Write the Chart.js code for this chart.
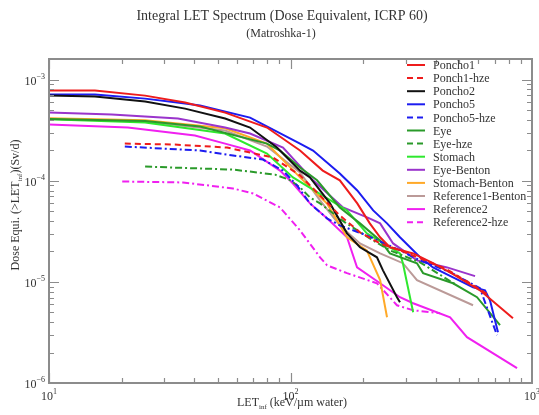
<!DOCTYPE html>
<html>
<head>
<meta charset="utf-8">
<script src="https://cdn.jsdelivr.net/npm/chart.js@4/dist/chart.umd.min.js"></script>
<style>
  html, body { margin: 0; padding: 0; background: #fff; }
</style>
</head>
<body>
<canvas id="chartLET" width="539" height="415"></canvas>
<script>
// LET (keV/um water) and dose equivalent (Sv/d)
const poncho1Let  = [10, 15.5, 25, 36.6, 53.6, 79.9, 109.5, 136, 160, 189, 213, 235, 258, 322, 389, 471, 609, 834];
const poncho1Dose = [7.8e-4, 7.8e-4, 6.95e-4, 5.93e-4, 4.72e-4, 3.36e-4, 1.99e-4, 1.26e-4, 1.01e-4, 5.97e-5, 3.79e-5, 2.76e-5, 2.2e-5, 1.91e-5, 1.53e-5, 1.19e-5, 8.26e-6, 4.37e-6];

const ponch1HzeLet  = [20.6, 33.2, 54.6, 84.6, 109.5, 132.5, 160, 194, 235, 284, 344, 436, 554, 650];
const ponch1HzeDose = [2.33e-4, 2.28e-4, 2.13e-4, 1.7e-4, 1.13e-4, 7.16e-5, 4.54e-5, 3.09e-5, 2.4e-5, 2.05e-5, 1.71e-5, 1.36e-5, 9.7e-6, 7.6e-6];

const poncho2Let  = [10, 15.5, 25, 36.6, 53.6, 68, 87.9, 109.5, 120.4, 145.8, 171.4, 194, 228, 241.5, 276, 284];
const poncho2Dose = [6.95e-4, 6.8e-4, 6.07e-4, 5.17e-4, 4.12e-4, 3.36e-4, 2.13e-4, 1.26e-4, 1.08e-4, 5.97e-5, 3.02e-5, 2.2e-5, 1.75e-5, 1.3e-5, 7.05e-6, 6.29e-6];

const poncho5Let  = [10, 15.5, 25, 36.6, 42.2, 68, 109.5, 124, 160, 189, 220, 251, 284, 344, 389, 471, 570, 639, 670, 723];
const poncho5Dose = [7.11e-4, 7.11e-4, 6.49e-4, 5.8e-4, 5.54e-4, 4.21e-4, 2.33e-4, 1.99e-4, 1.18e-4, 8.02e-5, 5.09e-5, 3.79e-5, 2.76e-5, 1.75e-5, 1.39e-5, 1.11e-5, 8.85e-6, 8.26e-6, 6.58e-6, 3.18e-6];

const poncho5HzeLet  = [20.6, 42.2, 57.8, 76.9, 93.1, 106.4, 120.4, 141.6, 160, 207, 284, 344, 458, 609, 716];
const poncho5HzeDose = [2.18e-4, 1.99e-4, 1.78e-4, 1.62e-4, 1.26e-4, 8.99e-5, 5.97e-5, 4.25e-5, 3.62e-5, 2.88e-5, 2.05e-5, 1.63e-5, 1.25e-5, 8.65e-6, 2.97e-6];

const eyeLet  = [10, 25, 42.2, 79.9, 90.5, 109.5, 128.8, 160, 194, 235, 258, 334, 354, 471, 592, 737];
const eyeDose = [4.08e-4, 3.9e-4, 3.44e-4, 2.33e-4, 1.99e-4, 1.35e-4, 1.01e-4, 5.45e-5, 3.79e-5, 2.57e-5, 1.91e-5, 1.53e-5, 1.22e-5, 9.69e-6, 7.05e-6, 3.73e-6];

const eyeHzeLet  = [25, 57.8, 86.3, 100, 109.5, 120.4, 132.5, 168, 213, 258, 344, 480];
const eyeHzeDose = [1.38e-4, 1.29e-4, 1.15e-4, 1.01e-4, 8.59e-5, 6.84e-5, 5.97e-5, 3.88e-5, 2.69e-5, 2.05e-5, 1.56e-5, 9.5e-6];

const stomachLet  = [10, 25, 53.6, 79.9, 102.4, 171.4, 207, 284, 292, 322];
const stomachDose = [4.05e-4, 3.76e-4, 2.93e-4, 1.86e-4, 1.08e-4, 5.09e-5, 3.02e-5, 1.91e-5, 1.53e-5, 5.01e-6];

const eyeBentonLet  = [10, 18.2, 34.2, 53.6, 68, 93.1, 124, 165, 210, 235, 266, 334, 445, 581];
const eyeBentonDose = [4.72e-4, 4.51e-4, 4.12e-4, 3.36e-4, 2.93e-4, 2.13e-4, 1.01e-4, 5.45e-5, 4.3e-5, 3.79e-5, 2.4e-5, 1.63e-5, 1.39e-5, 1.14e-5];

const stomachBentonLet  = [10, 25, 53.6, 79.9, 109.5, 141.6, 171.4, 207, 235, 251];
const stomachBentonDose = [4.14e-4, 3.96e-4, 3.3e-4, 2.33e-4, 1.08e-4, 5.97e-5, 2.76e-5, 2.05e-5, 1.04e-5, 4.47e-6];

const ref1BentonLet  = [10, 25, 53.6, 79.9, 109.5, 132.5, 160, 194, 235, 292, 334, 570];
const ref1BentonDose = [4.1e-4, 3.85e-4, 3.14e-4, 2.18e-4, 1.21e-4, 6.39e-5, 3.62e-5, 2.4e-5, 1.91e-5, 1.53e-5, 1.04e-5, 5.87e-6];

const ref2Let  = [10, 21.2, 40.2, 53.6, 68, 90.5, 102.4, 120.4, 141.6, 171.4, 188.6, 235, 284, 322, 458, 538, 867];
const ref2Dose = [3.6e-4, 3.36e-4, 2.8e-4, 2.33e-4, 1.99e-4, 1.26e-4, 9.4e-5, 5.97e-5, 4.25e-5, 2.76e-5, 1.39e-5, 9.69e-6, 7.05e-6, 6.15e-6, 4.47e-6, 2.84e-6, 1.4e-6];

const ref2HzeLet  = [20.1, 35.9, 57.8, 69.9, 90.5, 109.5, 132.5, 141.6, 171.4, 228, 276, 322, 416];
const ref2HzeDose = [9.84e-5, 9.62e-5, 8.39e-5, 7.49e-5, 5.45e-5, 3.23e-5, 1.75e-5, 1.46e-5, 1.22e-5, 9.69e-6, 5.87e-6, 5.24e-6, 4.9e-6];

const xTickExps = [1, 2, 3];
const yTickExps = [-3, -4, -5, -6];

const DASH = [6, 4];
const DASHDOT = [7, 3, 2, 3];

const series = [
  {label: 'Poncho1',           let: poncho1Let,       dose: poncho1Dose,       color: '#ee1c1c', dash: []},
  {label: 'Ponch1-hze',        let: ponch1HzeLet,     dose: ponch1HzeDose,     color: '#ee1c1c', dash: DASH},
  {label: 'Poncho2',           let: poncho2Let,       dose: poncho2Dose,       color: '#111111', dash: []},
  {label: 'Poncho5',           let: poncho5Let,       dose: poncho5Dose,       color: '#1c1cf0', dash: []},
  {label: 'Poncho5-hze',       let: poncho5HzeLet,    dose: poncho5HzeDose,    color: '#1c1cf0', dash: DASHDOT},
  {label: 'Eye',               let: eyeLet,           dose: eyeDose,           color: '#2a9a2a', dash: []},
  {label: 'Eye-hze',           let: eyeHzeLet,        dose: eyeHzeDose,        color: '#2a9a2a', dash: DASHDOT},
  {label: 'Stomach',           let: stomachLet,       dose: stomachDose,       color: '#2ee82e', dash: []},
  {label: 'Eye-Benton',        let: eyeBentonLet,     dose: eyeBentonDose,     color: '#9a34cc', dash: []},
  {label: 'Stomach-Benton',    let: stomachBentonLet, dose: stomachBentonDose, color: '#ffa928', dash: []},
  {label: 'Reference1-Benton', let: ref1BentonLet,    dose: ref1BentonDose,    color: '#bb9a98', dash: []},
  {label: 'Reference2',        let: ref2Let,          dose: ref2Dose,          color: '#f020f0', dash: []},
  {label: 'Reference2-hze',    let: ref2HzeLet,       dose: ref2HzeDose,       color: '#f020f0', dash: DASHDOT}
];

const SERIF = '"Liberation Serif", "DejaVu Serif", serif';

// draws 10^n with a raised exponent
function drawPow(ctx, exp, x, y, align) {
  ctx.font = '12px ' + SERIF;
  const wb = ctx.measureText('10').width;
  ctx.font = '8px ' + SERIF;
  const ex = String(exp).replace('-', '\u2212');
  const we = ctx.measureText(ex).width;
  const w = wb + we;
  let x0 = align === 'right' ? x - w : x - w / 2;
  ctx.textAlign = 'left';
  ctx.textBaseline = 'middle';
  ctx.font = '12px ' + SERIF;
  ctx.fillText('10', x0, y);
  ctx.font = '8px ' + SERIF;
  ctx.fillText(ex, x0 + wb, y - 5);
}

function drawSubTitle(ctx, pre, sub, post, cx, cy) {
  ctx.font = '12px ' + SERIF;
  const w1 = ctx.measureText(pre).width;
  const w3 = ctx.measureText(post).width;
  ctx.font = '7px ' + SERIF;
  const w2 = ctx.measureText(sub).width;
  let x = cx - (w1 + w2 + w3) / 2;
  ctx.fillStyle = '#333';
  ctx.textAlign = 'left';
  ctx.textBaseline = 'middle';
  ctx.font = '12px ' + SERIF;
  ctx.fillText(pre, x, cy);
  ctx.font = '7px ' + SERIF;
  ctx.fillText(sub, x + w1, cy + 4);
  ctx.font = '12px ' + SERIF;
  ctx.fillText(post, x + w1 + w2, cy);
}

const framePlugin = {
  id: 'frame',
  afterDraw(chart) {
    const {ctx, chartArea: a, scales} = chart;
    const xs = scales.x, ys = scales.y;
    ctx.save();
    ctx.strokeStyle = '#8c8c8c';
    ctx.lineWidth = 2;
    ctx.strokeRect(a.left, a.top, a.right - a.left, a.bottom - a.top);

    ctx.lineWidth = 1.2;
    ctx.beginPath();
    for (let d = 1; d <= 2; d++) {
      for (let m = 1; m <= 9; m++) {
        const px = Math.round(xs.getPixelForValue(m * Math.pow(10, d))) + 0.5;
        const len = m === 1 ? 10 : 5;
        ctx.moveTo(px, a.bottom); ctx.lineTo(px, a.bottom - len);
        ctx.moveTo(px, a.top); ctx.lineTo(px, a.top + len);
      }
    }
    for (let d = -6; d <= -3; d++) {
      for (let m = 1; m <= 9; m++) {
        const v = m * Math.pow(10, d);
        if (v > ys.max) break;
        const py = Math.round(ys.getPixelForValue(v)) + 0.5;
        const len = m === 1 ? 10 : 5;
        ctx.moveTo(a.left, py); ctx.lineTo(a.left + len, py);
        ctx.moveTo(a.right, py); ctx.lineTo(a.right - len, py);
      }
    }
    ctx.stroke();

    // tick labels
    ctx.fillStyle = '#333';
    xTickExps.forEach(e => drawPow(ctx, e, xs.getPixelForValue(Math.pow(10, e)), a.bottom + 14, 'center'));
    yTickExps.forEach(e => drawPow(ctx, e, a.left - 4, ys.getPixelForValue(Math.pow(10, e)) + 2, 'right'));

    // titles
    ctx.textAlign = 'center';
    ctx.textBaseline = 'middle';
    ctx.font = '14px ' + SERIF;
    ctx.fillText('Integral LET Spectrum (Dose Equivalent, ICRP 60)', 282, 16);
    ctx.font = '12px ' + SERIF;
    ctx.fillText('(Matroshka-1)', 281, 34);

    // x-axis title with subscript
    drawSubTitle(ctx, 'LET', 'inf', ' (keV/\u00b5m water)', 292, 403);

    // y-axis title, rotated
    ctx.save();
    ctx.translate(16, 205);
    ctx.rotate(-Math.PI / 2);
    drawSubTitle(ctx, 'Dose Equi. (>LET', 'inf', ')(Sv/d)', 0, 0);
    ctx.restore();

    // legend
    ctx.lineWidth = 2;
    series.forEach((s, i) => {
      const y = 65 + i * 13.1;
      ctx.strokeStyle = s.color;
      ctx.setLineDash(s.dash.length ? DASH : []);
      ctx.beginPath();
      ctx.moveTo(407, y); ctx.lineTo(425, y);
      ctx.stroke();
      ctx.setLineDash([]);
      ctx.fillStyle = '#333';
      ctx.font = '12px ' + SERIF;
      ctx.textAlign = 'left';
      ctx.textBaseline = 'middle';
      ctx.fillText(s.label, 433, y + 1);
    });
    ctx.restore();
  }
};

new Chart(document.getElementById('chartLET'), {
  type: 'line',
  data: {
    datasets: series.map(s => ({
      label: s.label,
      data: s.let.map((v, i) => ({x: v, y: s.dose[i]})),
      borderColor: s.color,
      borderDash: s.dash,
      borderWidth: 2,
      pointRadius: 0,
      fill: false,
      tension: 0
    }))
  },
  options: {
    responsive: false,
    animation: false,
    devicePixelRatio: 1,
    layout: {padding: {left: 49, right: 7, top: 59, bottom: 32}},
    plugins: {legend: {display: false}, title: {display: false}, tooltip: {enabled: false}},
    scales: {
      x: {type: 'logarithmic', min: 10, max: 1000, display: false},
      y: {type: 'logarithmic', min: 1e-6, max: 1.6e-3, display: false}
    }
  },
  plugins: [framePlugin]
});
</script>
</body>
</html>
